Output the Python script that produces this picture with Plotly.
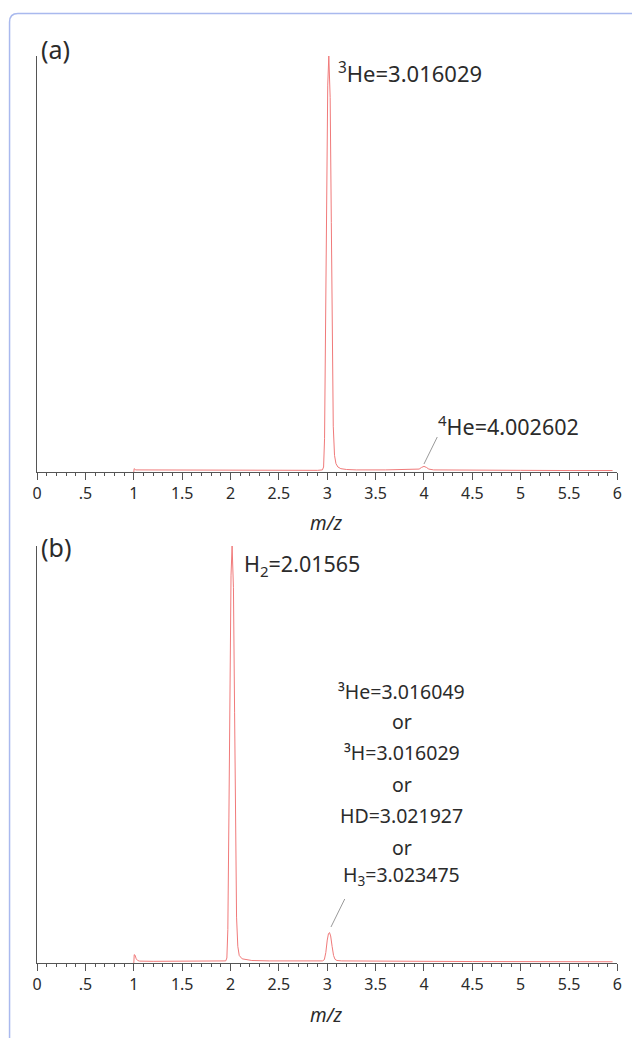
import plotly.graph_objects as go

# ---------------- data ----------------
# panel (a): mass spectrum, relative intensity (%)
mz_a = [1.0, 1.003, 1.02, 1.5, 2.0, 2.5, 2.9, 2.95, 2.962, 2.972, 2.983, 2.995, 3.005,
        3.016, 3.03, 3.042, 3.052, 3.062, 3.075, 3.09, 3.11, 3.14, 3.2, 3.3, 3.6, 3.9,
        3.95, 3.975, 4.0, 4.025, 4.05, 4.1, 4.5, 5.0, 5.5, 5.95]
int_a = [0.0, 0.8, 0.5, 0.45, 0.4, 0.4, 0.4, 0.5, 1.2, 8.0, 35.0, 75.0, 93.0,
         100.0, 90.0, 60.0, 30.0, 11.0, 4.0, 2.0, 1.2, 0.8, 0.6, 0.5, 0.5, 0.55,
         0.7, 1.1, 1.35, 1.1, 0.7, 0.5, 0.4, 0.4, 0.35, 0.35]

# panel (b)
mz_b = [1.0, 1.004, 1.012, 1.025, 1.04, 1.06, 1.2, 1.5, 1.9, 1.95, 1.962, 1.972, 1.983,
        1.995, 2.005, 2.016, 2.03, 2.042, 2.052, 2.062, 2.075, 2.09, 2.12, 2.15, 2.18,
        2.22, 2.4, 2.8, 2.95, 2.97, 2.985, 3.0, 3.012, 3.023, 3.035, 3.05, 3.065, 3.08,
        3.1, 3.15, 3.3, 3.6, 4.0, 4.5, 5.0, 5.5, 5.95]
int_b = [0.0, 2.0, 1.9, 1.0, 0.6, 0.45, 0.4, 0.4, 0.4, 0.5, 1.2, 8.0, 35.0,
         75.0, 93.0, 100.0, 90.0, 60.0, 30.0, 11.0, 4.0, 1.8, 1.0, 0.9, 0.8,
         0.6, 0.5, 0.45, 0.5, 0.8, 2.5, 5.5, 7.0, 7.3, 6.5, 4.0, 1.8, 0.9,
         0.6, 0.5, 0.45, 0.4, 0.4, 0.35, 0.3, 0.3, 0.3]

tick_vals = [0, 0.5, 1, 1.5, 2, 2.5, 3, 3.5, 4, 4.5, 5, 5.5, 6]
tick_text = ["0", ".5", "1", "1.5", "2", "2.5", "3", "3.5", "4", "4.5", "5", "5.5", "6"]

label_a_main = "<sup>3</sup>He=3.016029"
label_a_minor = "<sup>4</sup>He=4.002602"
label_b_main = "H<sub>2</sub>=2.01565"
label_b_lines = ["³He=3.016049", "or", "³H=3.016029", "or", "HD=3.021927", "or",
                 "H<sub>3</sub>=3.023475"]

# ---------------- layout helpers ----------------
W, H = 640, 1038
DX, DY = -8, -7   # compensate page offset
def px(x):
    return (x + DX) / W
def py(y):
    return 1 - (y + DY) / H

FONT = "Noto Sans"
TXT = "#2b2b2b"
LINE = "#f07a7a"
AX = "#555555"

fig = go.Figure()
fig.add_trace(go.Scatter(x=mz_a, y=int_a, mode="lines", line=dict(color=LINE, width=1),
                         xaxis="x", yaxis="y", showlegend=False, hoverinfo="skip"))
fig.add_trace(go.Scatter(x=mz_b, y=int_b, mode="lines", line=dict(color=LINE, width=1),
                         xaxis="x2", yaxis="y2", showlegend=False, hoverinfo="skip"))

xdom = [px(32.5), px(622)]
xaxis_common = dict(
    range=[0, 6], domain=xdom, showgrid=False, zeroline=False,
    showline=True, linecolor=AX, linewidth=1,
    tickmode="array", tickvals=tick_vals, ticktext=tick_text,
    ticks="outside", ticklen=7, tickcolor=AX, tickwidth=1,
    tickfont=dict(family=FONT, size=16, color=TXT),
    minor=dict(tickmode="linear", tick0=0, dtick=0.1, ticks="outside", ticklen=3,
               tickcolor=AX, tickwidth=1, showgrid=False),
    fixedrange=True,
)
yaxis_common = dict(
    range=[0, 100], showgrid=False, zeroline=False, showline=True, linecolor=AX,
    linewidth=1, showticklabels=False, ticks="", fixedrange=True,
)

fig.update_layout(
    width=W, height=H,
    margin=dict(l=0, r=0, t=0, b=0),
    paper_bgcolor="white", plot_bgcolor="white",
    xaxis=dict(anchor="y", **xaxis_common),
    yaxis=dict(domain=[py(471), py(55)], anchor="x", **yaxis_common),
    xaxis2=dict(anchor="y2", **xaxis_common),
    yaxis2=dict(domain=[py(962), py(545)], anchor="x2", **yaxis_common),
    font=dict(family=FONT, color=TXT),
)

ann = []
def text(t, x, y, size=19, xanchor="left"):
    ann.append(dict(text=t, x=px(x), y=py(y), xref="paper", yref="paper",
                    xanchor=xanchor, yanchor="middle", showarrow=False,
                    font=dict(family=FONT, size=size, color=TXT)))

text("(a)", 34, 48, size=25)
text(label_a_main, 336, 71, size=22)
text(label_a_minor, 438, 424, size=21.5)
text("<i>m/z</i>", 326, 522, size=19, xanchor="center")
text("(b)", 34, 546, size=25)
text(label_b_main, 241, 564, size=21.5)
ys = [690, 720, 751, 783, 814, 846, 874]
for t, yy in zip(label_b_lines, ys):
    text(t, 403, yy, size=19.5, xanchor="center")
text("<i>m/z</i>", 326, 1014, size=19, xanchor="center")
fig.update_layout(annotations=ann)

shapes = []
# connector lines
for (x0, y0, x1, y1) in [(425.5, 463, 439, 436), (331, 926, 345, 898)]:
    shapes.append(dict(type="line", xref="paper", yref="paper",
                       x0=px(x0), y0=py(y0), x1=px(x1), y1=py(y1),
                       line=dict(color="#9a9a9a", width=1)))
# card border (rounded top-left corner)
path = (f"M {px(4.5)},{py(1050)} L {px(4.5)},{py(21)} "
        f"Q {px(4.5)},{py(12.5)} {px(13)},{py(12.5)} L {px(660)},{py(12.5)}")
shapes.append(dict(type="path", xref="paper", yref="paper", path=path,
                   line=dict(color="#a9b9ee", width=1.5)))
fig.update_layout(shapes=shapes)

fig.write_html("out.html")
